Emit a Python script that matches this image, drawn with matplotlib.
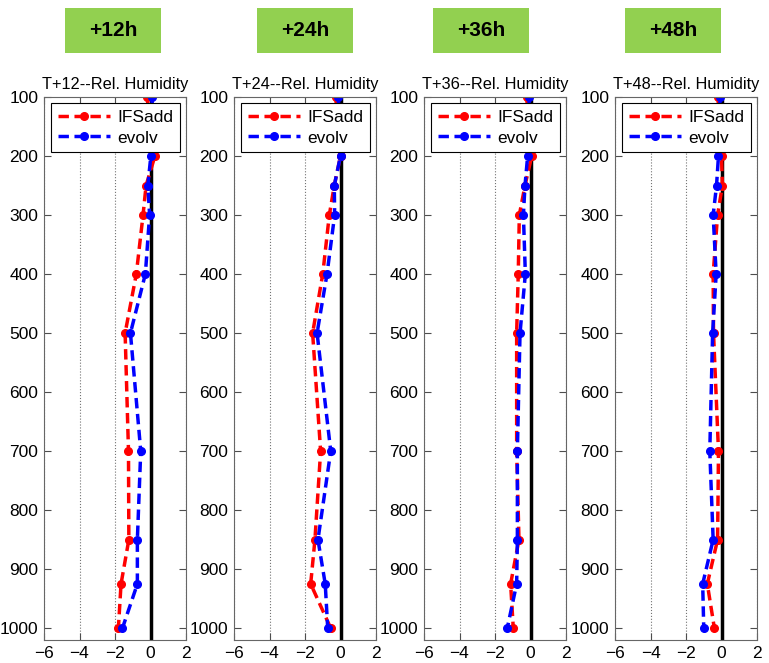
import matplotlib
matplotlib.use("Agg")
import matplotlib.pyplot as plt
from matplotlib.patches import Rectangle

plt.rcParams['font.family'] = ['Liberation Sans', 'DejaVu Sans']

levels = [100, 200, 250, 300, 400, 500, 700, 850, 925, 1000]
leads = ["+12h", "+24h", "+36h", "+48h"]
titles = ["T+12--Rel. Humidity", "T+24--Rel. Humidity",
          "T+36--Rel. Humidity", "T+48--Rel. Humidity"]

ifsadd_12 = [-0.2, 0.25, -0.25, -0.42, -0.8, -1.43, -1.24, -1.22, -1.66, -1.81]
evolv_12 = [0.1, 0.02, -0.15, -0.05, -0.29, -1.13, -0.55, -0.74, -0.74, -1.58]
ifsadd_24 = [-0.27, 0.0, -0.35, -0.63, -1.0, -1.57, -1.12, -1.44, -1.68, -0.55]
evolv_24 = [-0.12, 0.0, -0.35, -0.33, -0.76, -1.32, -0.55, -1.27, -0.86, -0.72]
ifsadd_36 = [-0.22, 0.07, -0.31, -0.63, -0.69, -0.78, -0.78, -0.65, -1.12, -0.97]
evolv_36 = [-0.07, -0.16, -0.31, -0.4, -0.29, -0.59, -0.74, -0.74, -0.78, -1.31]
ifsadd_48 = [-0.2, 0.0, 0.05, -0.22, -0.47, -0.45, -0.17, -0.22, -0.8, -0.4]
evolv_48 = [-0.08, -0.17, -0.28, -0.47, -0.3, -0.5, -0.66, -0.47, -1.06, -1.0]

ifsadd = [ifsadd_12, ifsadd_24, ifsadd_36, ifsadd_48]
evolv = [evolv_12, evolv_24, evolv_36, evolv_48]

xticks = [-6, -4, -2, 0, 2]
yticks = [100, 200, 300, 400, 500, 600, 700, 800, 900, 1000]

W, H = 769, 663
fig = plt.figure(figsize=(W / 100, H / 100), dpi=100)

ax_lefts = [44, 234, 424, 615]
ax_width = 142
ax_top, ax_bottom = 97, 640
box_lefts = [65, 257, 433, 625]
box_w, box_top, box_bot = 96, 8, 53

for i in range(4):
    ax = fig.add_axes([ax_lefts[i] / W, (H - ax_bottom) / H,
                       ax_width / W, (ax_bottom - ax_top) / H])
    ax.plot(ifsadd[i], levels, color='red', linestyle='--', linewidth=2.5,
            marker='o', markersize=5.5, dashes=(3, 1.6), label='IFSadd')
    ax.plot(evolv[i], levels, color='blue', linestyle='--', linewidth=2.5,
            marker='o', markersize=5.5, dashes=(3, 1.6), label='evolv')
    ax.axvline(0, color='black', linewidth=2.5, zorder=1)
    ax.set_xlim(-6, 2)
    ax.set_ylim(1020, 100)
    ax.set_xticks(xticks)
    ax.set_yticks(yticks)
    ax.xaxis.grid(True, linestyle=':', color='0.45', linewidth=0.8)
    ax.set_axisbelow(True)
    ax.tick_params(direction='in', top=True, right=True, length=5,
                   labelsize=12.5, color='0.3', pad=4)
    for s in ax.spines.values():
        s.set_color('0.4')
    ax.set_title(titles[i], fontsize=11.8, pad=6)
    leg = ax.legend(loc='upper right', fontsize=12.5, handlelength=3.0,
                    fancybox=False, edgecolor='black', framealpha=1,
                    borderaxespad=0.35, borderpad=0.4, labelspacing=0.3,
                    handletextpad=0.4)
    leg.get_frame().set_linewidth(0.8)

    fig.patches.append(Rectangle((box_lefts[i] / W, (H - box_bot) / H),
                                 box_w / W, (box_bot - box_top) / H,
                                 transform=fig.transFigure,
                                 facecolor='#92D050', edgecolor='none'))
    fig.text((box_lefts[i] + box_w / 2) / W, (H - (box_top + box_bot) / 2) / H,
             leads[i], ha='center', va='center', fontsize=15,
             fontweight='bold', color='black')

fig.savefig('out.png', dpi=100)
